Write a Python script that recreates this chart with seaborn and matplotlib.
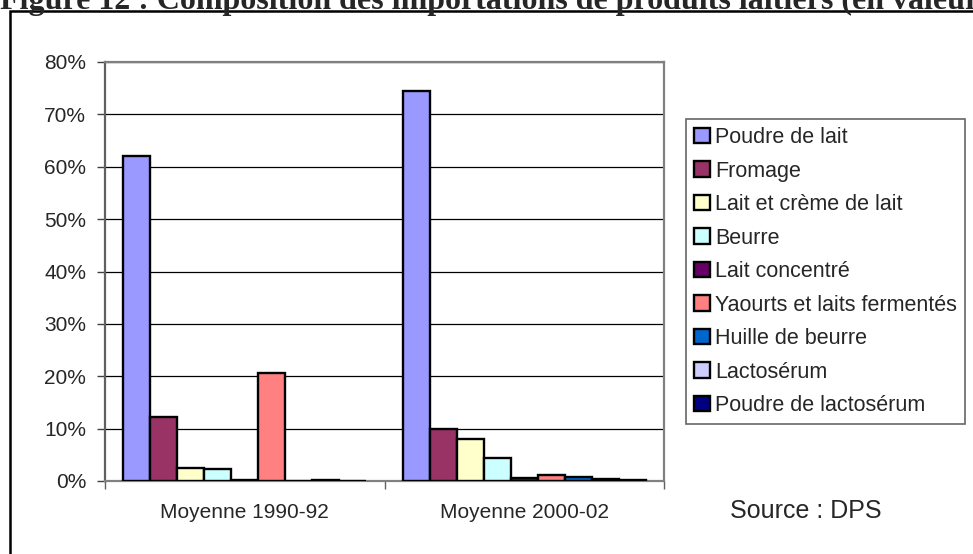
import pandas as pd
import matplotlib.pyplot as plt
import matplotlib.patches as mpatches
from matplotlib.ticker import FixedLocator, PercentFormatter
import seaborn as sns

# data (percent of import value)
periods = ['Moyenne 1990-92', 'Moyenne 2000-02']
produits = ['Poudre de lait', 'Fromage', 'Lait et crème de lait', 'Beurre',
            'Lait concentré', 'Yaourts et laits fermentés', 'Huille de beurre',
            'Lactosérum', 'Poudre de lactosérum']
v_1990 = [62.0, 12.3, 2.4, 2.2, 0.1, 20.7, 0.0, 0.25, 0.0]
v_2000 = [74.5, 9.9, 8.0, 4.4, 0.6, 1.1, 0.8, 0.4, 0.15]
couleurs = ['#9999FF', '#993366', '#FFFFCC', '#CCFFFF', '#660066',
            '#FF8080', '#0066CC', '#CCCCFF', '#000080']
y_ticks = [0, 10, 20, 30, 40, 50, 60, 70, 80]

# long table for seaborn
rows = []
for p, vals in zip(periods, [v_1990, v_2000]):
    for prod, v in zip(produits, vals):
        rows.append({'period': p, 'produit': prod, 'value': v})
data = pd.DataFrame(rows)

sns.set_style('white')
plt.rcParams['font.family'] = ['Liberation Sans', 'DejaVu Sans']

W, H = 973, 554
fig = plt.figure(figsize=(W / 100, H / 100), dpi=100)

# outer frame of the figure box (cut at right and bottom)
fig.patches.append(mpatches.Rectangle((10 / W, -0.1), 1.2, 1 - 11 / H + 0.1,
                                      transform=fig.transFigure, fill=False,
                                      edgecolor='black', linewidth=1.8))

# title (cut at top and right as in the scan)
fig.text(0.0, 1 - 8.5 / H, 'Figure 12 : Composition des importations de produits laitiers (en valeur)',
         family=['Liberation Serif', 'DejaVu Serif'], fontweight='bold', fontsize=23,
         ha='left', va='baseline')

ax = fig.add_axes([105 / W, 1 - 481 / H, 559 / W, 419 / H])
sns.barplot(data=data, x='period', y='value', hue='produit', hue_order=produits,
            palette=couleurs, edgecolor='black', linewidth=1.7, width=0.87,
            saturation=1, ax=ax, zorder=3)

# axis formatting
ax.set_xlim(-0.5, 1.5)
ax.set_ylim(0, 80)
ax.set_yticks(y_ticks)
ax.yaxis.set_major_formatter(PercentFormatter(decimals=0))
ax.set_xlabel('')
ax.set_ylabel('')
ax.grid(axis='y', color='black', linewidth=0.9, zorder=0)
ax.set_axisbelow(True)
for s in ax.spines.values():
    s.set_visible(True)
    s.set_color('#808080')
    s.set_linewidth(1.6)
ax.spines['left'].set_color('#606060')
ax.tick_params(axis='y', length=6, width=1, color='#404040', pad=7.5, labelsize=15, left=True)
ax.tick_params(axis='x', which='major', length=0, pad=16, labelsize=15)
ax.xaxis.set_minor_locator(FixedLocator([-0.5, 0.5, 1.5]))
ax.tick_params(axis='x', which='minor', length=6, width=1, color='#606060', bottom=True)

# legend
handles, labels = ax.get_legend_handles_labels()
leg = ax.legend(handles, labels, loc='upper left', bbox_to_anchor=(686 / W, 1 - 119 / H),
                bbox_transform=fig.transFigure, fontsize=15.5, frameon=True, fancybox=False,
                handlelength=0.72, handleheight=0.72, handletextpad=0.25,
                labelspacing=0.58, borderpad=0.38, borderaxespad=0)
leg.get_frame().set_edgecolor('#404040')
leg.get_frame().set_linewidth(1.2)
for h in leg.legend_handles:
    h.set_edgecolor('black')
    h.set_linewidth(1.7)

fig.text(806 / W, 1 - 511 / H, 'Source : DPS', fontsize=18, ha='center', va='center')

plt.savefig('out.png', dpi=100)
plt.close()
